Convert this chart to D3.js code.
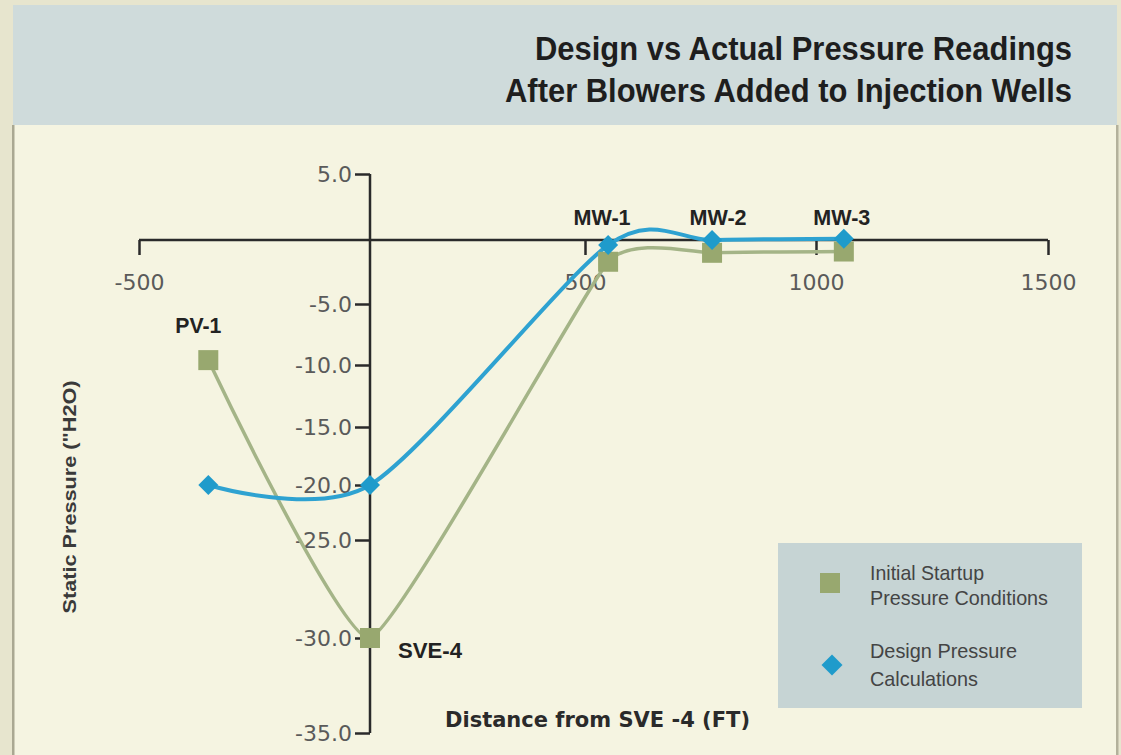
<!DOCTYPE html>
<html><head><meta charset="utf-8">
<script src="https://cdn.jsdelivr.net/npm/d3@7"></script>
<style>html,body{margin:0;padding:0;background:#e7e5ce;}svg{display:block;}</style>
</head><body>
<script>
// ---- data ----
const wells = ["PV-1", "SVE-4", "MW-1", "MW-2", "MW-3"];
const distance = [-350, 0, 550, 775, 1060];
const initialPressure = [-9.6, -30.0, -1.7, -1.0, -0.9];
const designPressure = [-20.0, -20.0, -0.4, 0.0, 0.1];
const xTicks = [-500, 500, 1000, 1500];
const yTicks = [5, 0, -5, -10, -15, -20, -25, -30, -35];
const titleLines = ["Design vs Actual Pressure Readings", "After Blowers Added to Injection Wells"];
const seriesNames = [["Initial Startup", "Pressure Conditions"], ["Design Pressure", "Calculations"]];

const W = 1121, H = 755;
const svg = d3.select("body").append("svg").attr("width", W).attr("height", H);

// frame
svg.append("rect").attr("x", 0).attr("y", 0).attr("width", W).attr("height", H).attr("fill", "#e7e5ce");
svg.append("rect").attr("x", 14).attr("y", 5).attr("width", 1103).attr("height", H - 5).attr("fill", "#f5f4e1");
svg.append("rect").attr("x", 12).attr("y", 125).attr("width", 2.5).attr("height", H - 125).attr("fill", "#aaa892");
svg.append("rect").attr("x", 1116).attr("y", 125).attr("width", 2.5).attr("height", H - 125).attr("fill", "#b3b19b");
svg.append("rect").attr("x", 13).attr("y", 5).attr("width", 1104).attr("height", 120).attr("fill", "#cfdbdb");

// title
const tW = [537, 567];
titleLines.forEach((t, i) => {
  svg.append("text").attr("x", 1072).attr("y", 60 + i * 42)
    .attr("text-anchor", "end").attr("font-family", "Liberation Sans, Arial, sans-serif")
    .attr("font-weight", "bold").attr("font-size", 33).attr("fill", "#1e1e1e")
    .attr("textLength", tW[i]).attr("lengthAdjust", "spacingAndGlyphs").text(t);
});

// scales (the printed axis is not evenly spaced, so the scales follow the printed tick positions)
const x = d3.scaleLinear().domain([-500, 0, 500, 1000, 1500]).range([139, 370, 585, 816, 1048]);
const y = d3.scaleLinear().domain(yTicks).range([174, 240, 304, 365, 427, 485, 540, 638, 733]);

const g = svg.append("g");
const axisColor = "#2a2a2a";
const hy = f => v => f(v).replace("\u2212", "-");

// x axis
const xAxis = g.append("g").attr("transform", `translate(0,${y(0)})`)
  .call(d3.axisBottom(x).tickValues(xTicks).tickSize(15).tickPadding(19).tickFormat(hy(d3.format("d"))));
xAxis.select(".domain").attr("d", `M${x(-500)},0H${x(1500)}`).attr("stroke", axisColor).attr("stroke-width", 2.5);
xAxis.selectAll(".tick line").attr("stroke", axisColor).attr("stroke-width", 2.5);
xAxis.selectAll(".tick text").attr("font-family", "DejaVu Sans, sans-serif").attr("font-size", 22).attr("fill", "#5a5a5a");

// y axis
const yAxis = g.append("g").attr("transform", `translate(${x(0)},0)`)
  .call(d3.axisLeft(y).tickValues(yTicks.filter(v => v !== 0)).tickSize(15).tickPadding(3).tickFormat(hy(d3.format(".1f"))));
yAxis.select(".domain").attr("d", `M0,${y(5)}V${y(-35)}`).attr("stroke", axisColor).attr("stroke-width", 2.5);
yAxis.selectAll(".tick line").attr("stroke", axisColor).attr("stroke-width", 2.5);
yAxis.selectAll(".tick text").attr("font-family", "DejaVu Sans, sans-serif").attr("font-size", 22).attr("fill", "#5a5a5a");

// axis titles
svg.append("text").attr("x", 445).attr("y", 727).attr("font-family", "DejaVu Sans, sans-serif")
  .attr("font-weight", "bold").attr("font-size", 22).attr("fill", "#2a2a2a")
  .attr("textLength", 305).attr("lengthAdjust", "spacingAndGlyphs").text("Distance from SVE -4 (FT)");
svg.append("text").attr("transform", "translate(76,497) rotate(-90)").attr("text-anchor", "middle")
  .attr("font-family", "Liberation Sans, Arial, sans-serif").attr("font-weight", "bold")
  .attr("font-size", 19).attr("fill", "#3a3a3a").attr("textLength", 233).attr("lengthAdjust", "spacingAndGlyphs")
  .text("Static Pressure (\"H2O)");

// lines
const initPts = distance.map((d, i) => [d, initialPressure[i]]);
const desPts = distance.map((d, i) => [d, designPressure[i]]);
const lineInit = d3.line().x(d => x(d[0])).y(d => y(d[1])).curve(d3.curveCardinal.tension(0.6));
const lineDes = d3.line().x(d => x(d[0])).y(d => y(d[1])).curve(d3.curveCardinal.tension(0.2));

const green = "#a4b487", greenMark = "#98a86f", blue = "#2ea2d1", blueMark = "#1f9bcb";
g.append("path").attr("d", lineInit(initPts)).attr("fill", "none").attr("stroke", green).attr("stroke-width", 3.5);
g.append("path").attr("d", lineDes(desPts)).attr("fill", "none").attr("stroke", blue).attr("stroke-width", 4);

// markers
g.selectAll(".sq").data(initPts).enter().append("rect")
  .attr("x", d => x(d[0]) - 10).attr("y", d => y(d[1]) - 10).attr("width", 20).attr("height", 20).attr("fill", greenMark);
g.selectAll(".dm").data(desPts).enter().append("path")
  .attr("d", d3.symbol().type(d3.symbolSquare).size(200))
  .attr("transform", d => `translate(${x(d[0])},${y(d[1])}) rotate(45)`).attr("fill", blueMark);

// point labels
const lblFont = "Liberation Sans, Arial, sans-serif";
wells.forEach((w, i) => {
  let lx, ly, anchor = "middle";
  if (i === 0) { lx = x(distance[i]) - 10; ly = y(initialPressure[i]) - 27; }
  else if (i === 1) { lx = x(distance[i]) + 28; ly = y(initialPressure[i]) + 20; anchor = "start"; }
  else { lx = x(distance[i]) + [0, 0, -6, 6, -2][i]; ly = y(0) - 15; }
  svg.append("text").attr("x", lx).attr("y", ly).attr("text-anchor", anchor)
    .attr("font-family", lblFont).attr("font-weight", "bold").attr("font-size", 22).attr("fill", "#222")
    .attr("textLength", i === 0 ? 46 : (i === 1 ? 64 : 57)).attr("lengthAdjust", "spacingAndGlyphs").text(w);
});

// legend
const lg = svg.append("g");
lg.append("rect").attr("x", 778).attr("y", 543).attr("width", 304).attr("height", 165).attr("fill", "#c6d4d4");
lg.append("rect").attr("x", 820).attr("y", 573).attr("width", 20).attr("height", 20).attr("fill", greenMark);
lg.append("path").attr("d", d3.symbol().type(d3.symbolSquare).size(220)).attr("transform", "translate(832,665) rotate(45)").attr("fill", blueMark);
const legW = [[114, 178], [147, 108]];
seriesNames.forEach((lines, s) => {
  lines.forEach((t, k) => {
    lg.append("text").attr("x", 870).attr("y", (s === 0 ? 580 : 658) + k * (s === 0 ? 25 : 28))
      .attr("font-family", lblFont).attr("font-size", 21).attr("fill", "#444")
      .attr("textLength", legW[s][k]).attr("lengthAdjust", "spacingAndGlyphs").text(t);
  });
});
</script>
</body></html>
